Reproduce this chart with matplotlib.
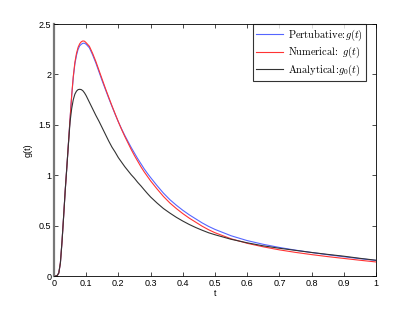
import numpy as np
import matplotlib
matplotlib.use("Agg")
import matplotlib.pyplot as plt

plt.rcParams['mathtext.fontset'] = 'cm'
plt.rcParams['font.family'] = ['Liberation Sans', 'DejaVu Sans']

t = [0, 0.005, 0.01, 0.015, 0.02, 0.025, 0.03, 0.035, 0.04, 0.045, 0.05,
     0.055, 0.06, 0.065, 0.07, 0.075, 0.08, 0.085, 0.09, 0.095, 0.10,
     0.11, 0.12, 0.13, 0.14, 0.15, 0.16, 0.17, 0.18, 0.19, 0.20,
     0.21, 0.22, 0.23, 0.24, 0.25, 0.26, 0.27, 0.28, 0.29, 0.30,
     0.32, 0.34, 0.36, 0.38, 0.40, 0.42, 0.44, 0.46, 0.48, 0.50,
     0.55, 0.60, 0.65, 0.70, 0.75, 0.80, 0.85, 0.90, 0.95, 1.00]

g_numerical = [0, 0, 0.005, 0.03, 0.13, 0.34, 0.59, 0.85, 1.08, 1.32, 1.56,
               1.79, 1.98, 2.12, 2.21, 2.27, 2.305, 2.325, 2.333, 2.33, 2.315,
               2.28, 2.21, 2.13, 2.04, 1.95, 1.86, 1.775, 1.69, 1.61, 1.53,
               1.455, 1.385, 1.32, 1.255, 1.195, 1.14, 1.085, 1.035, 0.99, 0.945,
               0.865, 0.79, 0.725, 0.67, 0.62, 0.575, 0.535, 0.495, 0.46, 0.43,
               0.37, 0.325, 0.29, 0.26, 0.235, 0.213, 0.193, 0.175, 0.157, 0.14]

g_perturbative = [0, 0, 0.005, 0.03, 0.13, 0.34, 0.59, 0.85, 1.08, 1.32, 1.56,
                  1.785, 1.97, 2.105, 2.19, 2.25, 2.285, 2.30, 2.31, 2.31, 2.30,
                  2.265, 2.195, 2.115, 2.025, 1.935, 1.85, 1.765, 1.685, 1.605, 1.53,
                  1.46, 1.395, 1.335, 1.275, 1.22, 1.165, 1.115, 1.065, 1.02, 0.978,
                  0.898, 0.823, 0.758, 0.703, 0.653, 0.608, 0.568, 0.528, 0.493, 0.463,
                  0.40, 0.352, 0.315, 0.284, 0.257, 0.234, 0.212, 0.192, 0.173, 0.155]

g_analytical = [0, 0, 0.005, 0.03, 0.13, 0.34, 0.59, 0.85, 1.08, 1.31, 1.53,
                1.66, 1.75, 1.805, 1.835, 1.85, 1.853, 1.85, 1.838, 1.817, 1.79,
                1.725, 1.66, 1.595, 1.535, 1.47, 1.405, 1.34, 1.28, 1.23, 1.175,
                1.13, 1.085, 1.045, 1.005, 0.97, 0.93, 0.895, 0.857, 0.82, 0.785,
                0.725, 0.67, 0.625, 0.583, 0.546, 0.512, 0.482, 0.455, 0.43, 0.41,
                0.365, 0.33, 0.30, 0.276, 0.255, 0.234, 0.215, 0.197, 0.176, 0.157]

fig = plt.figure(figsize=(4.15, 3.13), dpi=100)
ax = fig.add_axes([0.13, 0.118, 0.776, 0.805])

ax.plot(t, g_perturbative, color='#5566ff', lw=0.8, label=r'$\mathrm{Pertubative}\!:\!g(t)$')
ax.plot(t, g_numerical, color='#ff3333', lw=0.8, label=r'$\mathrm{Numerical}\!:\ g(t)$')
ax.plot(t, g_analytical, color='#333333', lw=0.8, label=r'$\mathrm{Analytical}\!:\!g_0(t)$')

ax.set_xlim(0, 1)
ax.set_ylim(0, 2.5)
ax.set_xticks(np.arange(0, 1.01, 0.1))
ax.set_xticklabels(['0', '0.1', '0.2', '0.3', '0.4', '0.5', '0.6', '0.7', '0.8', '0.9', '1'])
ax.set_yticks([0, 0.5, 1, 1.5, 2, 2.5])
ax.set_yticklabels(['0', '0.5', '1', '1.5', '2', '2.5'])
ax.tick_params(direction='in', top=True, right=True, labelsize=6.5, length=3, width=0.5, pad=2)
for s in ax.spines.values():
    s.set_linewidth(0.6)
ax.spines['left'].set_color('#777777')
ax.spines['left'].set_linewidth(1.6)

ax.set_xlabel('t', fontsize=6.5, labelpad=1)
ax.set_ylabel('g(t)', fontsize=6.5, labelpad=4)

leg = ax.legend(loc='upper right', fontsize=7.5, frameon=True, fancybox=False,
                borderaxespad=0.0, bbox_to_anchor=(0.97, 1.0),
                handlelength=2.6, borderpad=0.3, labelspacing=0.25, handletextpad=0.5)
leg.get_frame().set_edgecolor('black')
leg.get_frame().set_linewidth(0.8)

plt.savefig('out.png', dpi=100)
